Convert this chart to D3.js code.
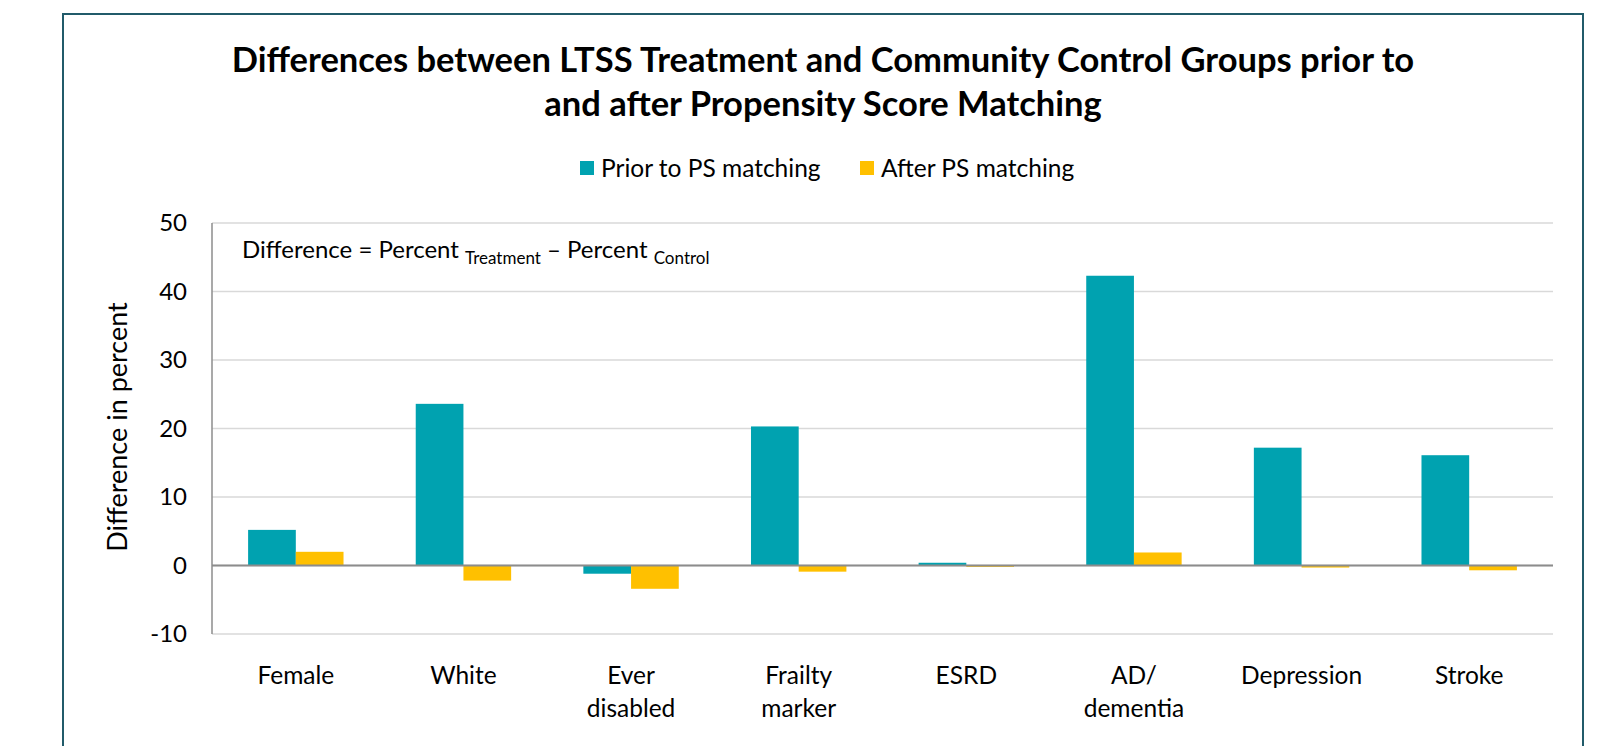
<!DOCTYPE html>
<html>
<head>
<meta charset="utf-8">
<script src="https://cdn.jsdelivr.net/npm/d3@7"></script>
<style>
  body { margin: 0; background: #fff; }
  svg { font-family: Lato, "Open Sans", sans-serif; }
</style>
</head>
<body>
<svg width="1610" height="746"></svg>
<script>
// data
var categories = ["Female", "White", "Ever disabled", "Frailty marker", "ESRD", "AD/ dementia", "Depression", "Stroke"];
var catLines = [["Female"], ["White"], ["Ever", "disabled"], ["Frailty", "marker"], ["ESRD"], ["AD/", "dementia"], ["Depression"], ["Stroke"]];
var prior = [5.2, 23.6, -1.2, 20.3, 0.4, 42.3, 17.2, 16.1];
var after = [2.0, -2.2, -3.4, -0.9, -0.2, 1.9, -0.3, -0.7];
var seriesNames = ["Prior to PS matching", "After PS matching"];
var yTicks = [-10, 0, 10, 20, 30, 40, 50];

var teal = "#00a2b0", gold = "#ffc000";

var svg = d3.select("svg");

// outer frame
svg.append("rect")
  .attr("x", 63).attr("y", 14)
  .attr("width", 1520).attr("height", 760)
  .attr("fill", "#fff")
  .attr("stroke", "#215b6a")
  .attr("stroke-width", 2);

// title
var title = svg.append("text")
  .attr("text-anchor", "middle")
  .attr("font-weight", "bold")
  .attr("font-size", "34.5px")
  .attr("fill", "#000");
title.append("tspan").attr("x", 823).attr("y", 72)
  .text("Differences between LTSS Treatment and Community Control Groups prior to");
title.append("tspan").attr("x", 823).attr("y", 116)
  .text("and after Propensity Score Matching");

// legend
var legend = svg.append("g");
var legX = [580, 860];
seriesNames.forEach(function(name, i){
  legend.append("rect")
    .attr("x", legX[i]).attr("y", 161)
    .attr("width", 14).attr("height", 14)
    .attr("fill", i == 0 ? teal : gold);
  legend.append("text")
    .attr("x", legX[i] + 21).attr("y", 177)
    .attr("font-size", "24.5px")
    .attr("fill", "#000")
    .text(name);
});

// scales
var x0 = d3.scaleBand().domain(categories).range([212, 1553]);
var x1 = d3.scaleBand().domain(["prior", "after"]).range([0, x0.bandwidth()]).paddingOuter(0.757);
var y = d3.scaleLinear().domain([-10, 50]).range([634, 223]);

// gridlines
svg.append("g").selectAll("line")
  .data(yTicks)
  .enter().append("line")
  .attr("x1", 212).attr("x2", 1553)
  .attr("y1", function(d){ return y(d); })
  .attr("y2", function(d){ return y(d); })
  .attr("stroke", "#d9d9d9")
  .attr("stroke-width", 1.5);

// y axis labels
var yAxis = svg.append("g")
  .attr("transform", "translate(212,0)")
  .call(d3.axisLeft(y).tickValues(yTicks).tickSize(0).tickPadding(25)
    .tickFormat(function(d){ return String(d); }));
yAxis.select(".domain").remove();
yAxis.selectAll("text")
  .attr("font-family", "Lato, 'Open Sans', sans-serif")
  .attr("font-size", "24px")
  .attr("fill", "#000");

// left axis line
svg.append("line")
  .attr("x1", 212).attr("x2", 212)
  .attr("y1", y(50)).attr("y2", y(-10))
  .attr("stroke", "#8c8c8c").attr("stroke-width", 1.5);

// bars
var rows = categories.map(function(c, i){ return { cat: c, prior: prior[i], after: after[i] }; });
var groups = svg.append("g").selectAll("g")
  .data(rows)
  .enter().append("g")
  .attr("transform", function(d){ return "translate(" + x0(d.cat) + ",0)"; });

groups.selectAll("rect")
  .data(function(d){ return [{ key: "prior", v: d.prior }, { key: "after", v: d.after }]; })
  .enter().append("rect")
  .attr("x", function(d){ return x1(d.key); })
  .attr("width", x1.bandwidth())
  .attr("y", function(d){ return y(Math.max(0, d.v)); })
  .attr("height", function(d){ return Math.abs(y(d.v) - y(0)); })
  .attr("fill", function(d){ return d.key == "prior" ? teal : gold; });

// zero line
svg.append("line")
  .attr("x1", 212).attr("x2", 1553)
  .attr("y1", y(0)).attr("y2", y(0))
  .attr("stroke", "#8c8c8c").attr("stroke-width", 2);

// x labels
var xAxis = svg.append("g")
  .attr("transform", "translate(0,634)")
  .call(d3.axisBottom(x0).tickSize(0));
xAxis.select(".domain").remove();
xAxis.selectAll("text").each(function(d, i){
  var t = d3.select(this).text("").attr("y", 50).attr("dy", null)
    .attr("font-family", "Lato, 'Open Sans', sans-serif")
    .attr("font-size", "24.5px").attr("fill", "#000");
  catLines[i].forEach(function(line, j){
    t.append("tspan").attr("x", 0).attr("dy", j == 0 ? 0 : 33).text(line);
  });
});

// y axis title
svg.append("text")
  .attr("transform", "translate(127,427) rotate(-90)")
  .attr("text-anchor", "middle")
  .attr("font-size", "27px")
  .attr("fill", "#000")
  .text("Difference in percent");

// note inside plot
var note = svg.append("text")
  .attr("x", 242).attr("y", 258)
  .attr("font-size", "24px")
  .attr("fill", "#000");
note.append("tspan").text("Difference = Percent ");
note.append("tspan").attr("font-size", "17px").attr("dy", 6).text("Treatment");
note.append("tspan").attr("dy", -6).text(" \u2013 Percent ");
note.append("tspan").attr("font-size", "17px").attr("dy", 6).text("Control");
</script>
</body>
</html>
